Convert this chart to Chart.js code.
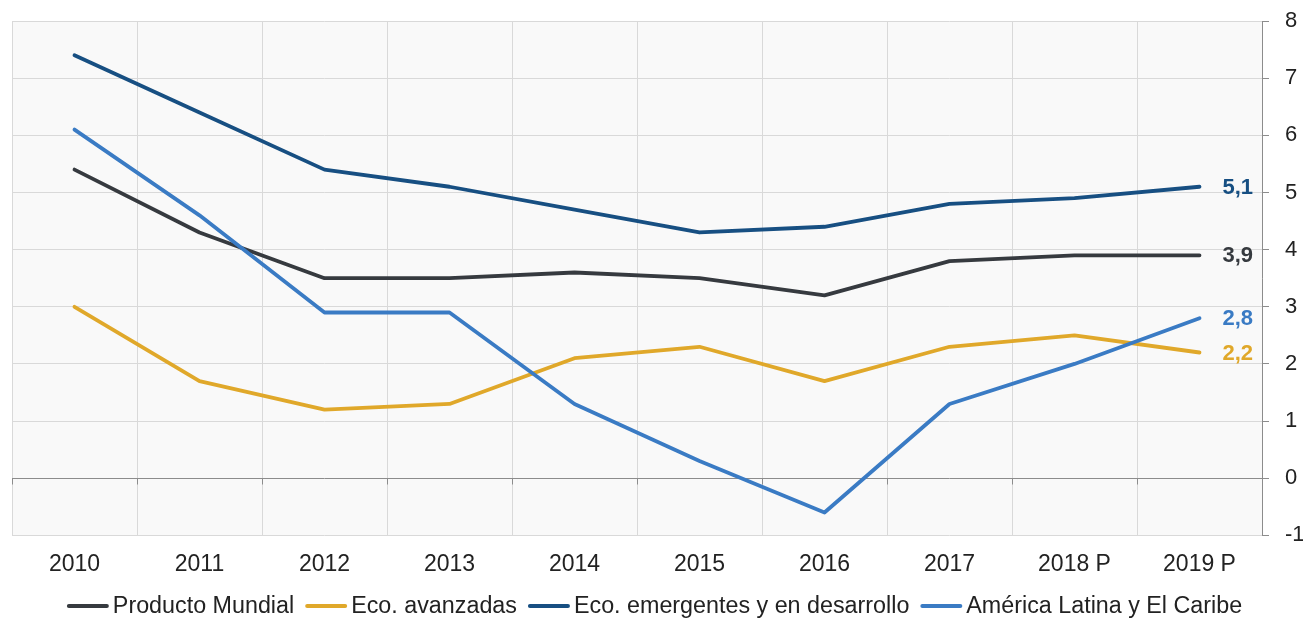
<!DOCTYPE html>
<html><head><meta charset="utf-8">
<script src="https://cdn.jsdelivr.net/npm/chart.js@4"></script>
<style>html,body{margin:0;padding:0;background:#fff}#wrap{width:1303px;height:619px}</style>
</head><body><div id="wrap"><canvas id="c" width="1303" height="619"></canvas></div>
<script>
const categories = ['2010','2011','2012','2013','2014','2015','2016','2017','2018 P','2019 P'];
const productoMundial = [5.4,4.3,3.5,3.5,3.6,3.5,3.2,3.8,3.9,3.9];
const ecoAvanzadas = [3.0,1.7,1.2,1.3,2.1,2.3,1.7,2.3,2.5,2.2];
const ecoEmergentes = [7.4,6.4,5.4,5.1,4.7,4.3,4.4,4.8,4.9,5.1];
const americaLatina = [6.1,4.6,2.9,2.9,1.3,0.3,-0.6,1.3,2.0,2.8];
const seriesNames = ['Producto Mundial','Eco. avanzadas','Eco. emergentes y en desarrollo','América Latina y El Caribe'];
const yMin = -1, yMax = 8, yStep = 1;

const seriesColors = ['#363a3f','#e0a82a','#174f82','#3a7bc4'];
const FONT = '"Liberation Sans", Arial, sans-serif';
const TEXT = '#222222';

const seriesData = [productoMundial, ecoAvanzadas, ecoEmergentes, americaLatina];

const bgPlugin = {
  id: 'bg',
  beforeDraw(chart) {
    const {ctx, chartArea: a} = chart;
    ctx.save();
    ctx.fillStyle = '#f9f9f9';
    ctx.fillRect(a.left, a.top, a.right - a.left, a.bottom - a.top);
    ctx.restore();
  },
  beforeDatasetsDraw(chart) {
    const {ctx} = chart;
    const x = chart.scales.x, y = chart.scales.y;
    const y0 = Math.round(y.getPixelForValue(0)) + 0.5;
    ctx.save();
    ctx.strokeStyle = '#8c8c8c';
    ctx.lineWidth = 1;
    ctx.beginPath();
    for (let i = 0; i <= categories.length; i++) {
      const px = Math.round(x.left + (x.right - x.left) * i / categories.length) + 0.5;
      ctx.moveTo(px, y0);
      ctx.lineTo(px, y0 + 6);
    }
    ctx.stroke();
    ctx.restore();
  }
};

const endLabelPlugin = {
  id: 'endLabels',
  afterDatasetsDraw(chart) {
    const {ctx} = chart;
    ctx.save();
    ctx.font = 'bold 22px ' + FONT;
    ctx.textAlign = 'left';
    ctx.textBaseline = 'middle';
    chart.data.datasets.forEach((ds, i) => {
      const meta = chart.getDatasetMeta(i);
      const pt = meta.data[meta.data.length - 1];
      const v = ds.data[ds.data.length - 1];
      ctx.fillStyle = ds.borderColor;
      ctx.fillText(v.toFixed(1).replace('.', ','), pt.x + 23, pt.y + 1);
    });
    ctx.restore();
  }
};

const legendPlugin = {
  id: 'customLegend',
  afterDraw(chart) {
    const {ctx} = chart;
    ctx.save();
    ctx.font = '23.3px ' + FONT;
    ctx.textBaseline = 'middle';
    const lineW = 40, gap = 5, spacing = 12;
    const items = chart.data.datasets.map(ds => ({label: ds.label, color: ds.borderColor, w: ctx.measureText(ds.label).width}));
    let total = 0;
    items.forEach((it, i) => { total += lineW + gap + it.w + (i ? spacing : 0); });
    let x = 655 - total / 2;
    const yc = 606;
    items.forEach(it => {
      ctx.strokeStyle = it.color;
      ctx.lineWidth = 4;
      ctx.lineCap = 'round';
      ctx.beginPath();
      ctx.moveTo(x + 1, yc);
      ctx.lineTo(x + lineW - 1, yc);
      ctx.stroke();
      ctx.fillStyle = TEXT;
      ctx.fillText(it.label, x + lineW + gap, yc + 1);
      x += lineW + gap + it.w + spacing;
    });
    ctx.restore();
  }
};

new Chart(document.getElementById('c'), {
  type: 'line',
  data: {
    labels: categories,
    datasets: seriesNames.map((name, i) => ({
      label: name,
      data: seriesData[i],
      borderColor: seriesColors[i],
      backgroundColor: seriesColors[i],
      borderWidth: 3.8,
      pointRadius: 0,
      tension: 0,
      fill: false,
      borderCapStyle: 'round',
      borderJoinStyle: 'round',
      order: seriesNames.length - i
    }))
  },
  options: {
    responsive: false,
    animation: false,
    devicePixelRatio: 1,
    layout: {padding: {left: 12, top: 21, right: 0, bottom: 26}},
    plugins: {legend: {display: false}, tooltip: {enabled: false}},
    scales: {
      x: {
        type: 'category',
        offset: true,
        afterFit(s) { s.paddingLeft = 0; s.paddingRight = 0; },
        grid: {offset: true, color: '#d9d9d9', lineWidth: 1, drawTicks: false},
        border: {display: false},
        ticks: {font: {family: FONT, size: 23}, color: TEXT, padding: 15, maxRotation: 0, autoSkip: false}
      },
      y: {
        position: 'right',
        min: yMin, max: yMax,
        afterFit(s) { s.width = 41; s.paddingTop = 0; s.paddingBottom = 0; },
        grid: {
          color: c => (c.tick && c.tick.value === 0) ? '#8c8c8c' : '#d9d9d9',
          tickColor: '#8c8c8c', tickLength: 7, lineWidth: 1
        },
        border: {display: true, color: '#8c8c8c', width: 1},
        ticks: {stepSize: yStep, font: {family: FONT, size: 22}, color: TEXT, padding: 16}
      }
    }
  },
  plugins: [bgPlugin, endLabelPlugin, legendPlugin]
});
</script>
</body></html>
